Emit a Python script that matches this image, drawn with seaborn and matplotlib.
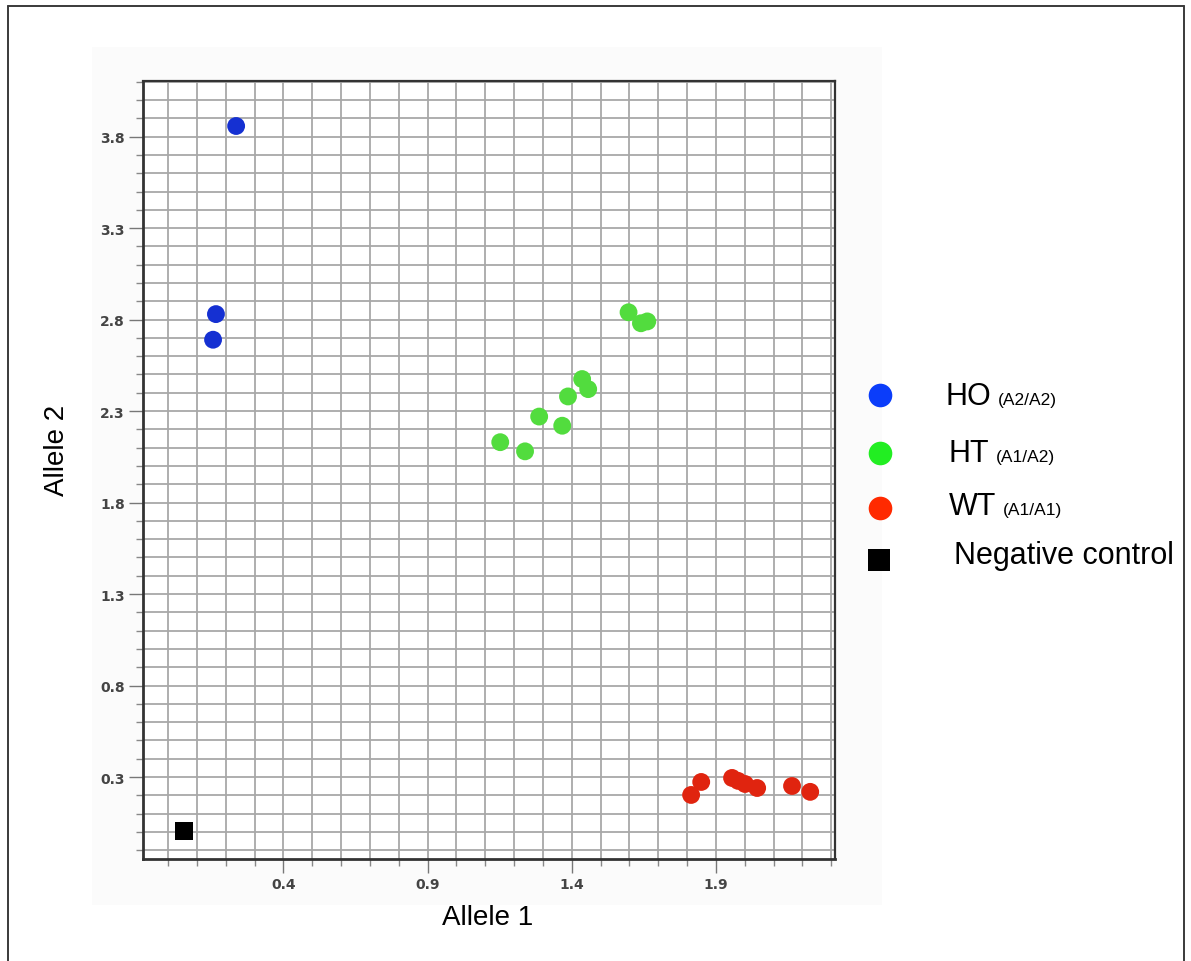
import numpy as np
import pandas as pd
import matplotlib
matplotlib.use("Agg")
import matplotlib.pyplot as plt
from matplotlib.lines import Line2D
from matplotlib.patches import Rectangle
from matplotlib.ticker import FixedLocator, MultipleLocator
import seaborn as sns

# Genotype calls: fluorescence of allele 1 vs allele 2 per sample
ho_x = [0.236, 0.166, 0.156]
ho_y = [3.858, 2.830, 2.690]

ht_x = [1.597, 1.640, 1.662, 1.436, 1.457, 1.387, 1.287, 1.367, 1.152, 1.238]
ht_y = [2.840, 2.780, 2.790, 2.475, 2.420, 2.380, 2.270, 2.220, 2.130, 2.080]

wt_x = [1.814, 1.849, 1.956, 1.977, 2.001, 2.043, 2.164, 2.227]
wt_y = [0.202, 0.273, 0.295, 0.279, 0.262, 0.240, 0.251, 0.219]

neg_x = [0.055]
neg_y = [0.005]

groups = ["HO", "HT", "WT", "NEG"]
x_major = [0.4, 0.9, 1.4, 1.9]
y_major = [0.3, 0.8, 1.3, 1.8, 2.3, 2.8, 3.3, 3.8]

point_colors = {"HO": "#1530d2", "HT": "#52dc3e", "WT": "#e0240f", "NEG": "#000000"}
point_markers = {"HO": "o", "HT": "o", "WT": "o", "NEG": "s"}

df = pd.DataFrame({
    "allele1": ho_x + ht_x + wt_x + neg_x,
    "allele2": ho_y + ht_y + wt_y + neg_y,
    "group": (["HO"] * len(ho_x) + ["HT"] * len(ht_x)
              + ["WT"] * len(wt_x) + ["NEG"] * len(neg_x)),
})

sns.set_theme(style="white")
plt.rcParams["font.family"] = ["Liberation Sans", "DejaVu Sans"]

W, H = 1191, 962
fig = plt.figure(figsize=(W / 100, H / 100), dpi=100)
fig.patch.set_facecolor("white")

# faint backing panel behind the plot
fig.patches.append(Rectangle((92 / W, 1 - 906 / H), 790 / W, 858 / H,
                             transform=fig.transFigure, facecolor="#fbfbfb",
                             edgecolor="none", zorder=-10))

# page frame (top, left, right)
for xs, ys in [([8, 1184], [7, 7]), ([8, 8], [7, 962]), ([1184, 1184], [7, 962])]:
    fig.add_artist(Line2D([x / W for x in xs], [1 - y / H for y in ys],
                          transform=fig.transFigure, color="#3a3a3a", lw=1.4))

ax = fig.add_axes([143 / W, 1 - 860 / H, (835 - 143) / W, (860 - 82) / H])
ax.set_zorder(2)
ax.set_facecolor("white")

sns.scatterplot(data=df, x="allele1", y="allele2", hue="group", style="group",
                hue_order=groups, style_order=groups, palette=point_colors,
                markers=point_markers, s=165, linewidth=0, legend=False,
                ax=ax, zorder=3)

ax.set_xlim(-0.087, 2.313)
ax.set_ylim(-0.148, 4.104)

ax.xaxis.set_major_locator(FixedLocator(x_major))
ax.xaxis.set_minor_locator(MultipleLocator(0.1))
ax.yaxis.set_major_locator(FixedLocator(y_major))
ax.yaxis.set_minor_locator(MultipleLocator(0.1))
ax.set_xticklabels([f"{v:.1f}" for v in x_major])
ax.set_yticklabels([f"{v:.1f}" for v in y_major])

ax.grid(True, which="both", color="#a8a8a8", lw=1.3, zorder=1)
ax.set_axisbelow(True)

ax.tick_params(axis="both", which="major", length=10, width=1.0, color="#777777",
               labelsize=10, labelcolor="#444444", pad=3, direction="out",
               bottom=True, left=True)
ax.tick_params(axis="both", which="minor", length=5, width=1.0, color="#888888",
               direction="out", bottom=True, left=True)
for lab in ax.get_xticklabels() + ax.get_yticklabels():
    lab.set_fontfamily("DejaVu Sans")
    lab.set_fontweight("bold")

for side in ["left", "bottom", "top", "right"]:
    ax.spines[side].set_visible(True)
    ax.spines[side].set_color("#333333")
ax.spines["left"].set_linewidth(2.0)
ax.spines["bottom"].set_linewidth(2.0)
ax.spines["top"].set_linewidth(1.6)
ax.spines["right"].set_linewidth(1.6)

ax.set_xlabel("Allele 1", fontsize=20, color="black", va="center")
ax.set_ylabel("Allele 2", fontsize=20, color="black", va="center", ha="center")
ax.xaxis.set_label_coords((488 - 143) / 692, (860 - 918) / 778)
ax.yaxis.set_label_coords((57 - 143) / 692, (860 - 450) / 778)

# legend drawn beside the plot
legend_rows = [
    ("o", "#0b3dfa", 880, 396, "HO", 945, 405, "(A2/A2)", 998),
    ("o", "#22ee22", 880, 454, "HT", 948, 462, "(A1/A2)", 996),
    ("o", "#ff2a00", 880, 509, "WT", 949, 515, "(A1/A1)", 1003),
    ("s", "#000000", 879, 561, "Negative control", 954, 564, "", 0),
]
for mk, col, mx, my, big, tx, ty, small, sx in legend_rows:
    fig.add_artist(Line2D([mx / W], [1 - my / H], transform=fig.transFigure,
                          marker=mk, markersize=17 if mk == "o" else 16,
                          markerfacecolor=col, markeredgewidth=0, linestyle="none"))
    fig.text(tx / W, 1 - ty / H, big, fontsize=22, color="black",
             ha="left", va="baseline")
    if small:
        fig.text(sx / W, 1 - ty / H, small, fontsize=12.5, color="black",
                 ha="left", va="baseline")

fig.savefig("out.png", dpi=100)
